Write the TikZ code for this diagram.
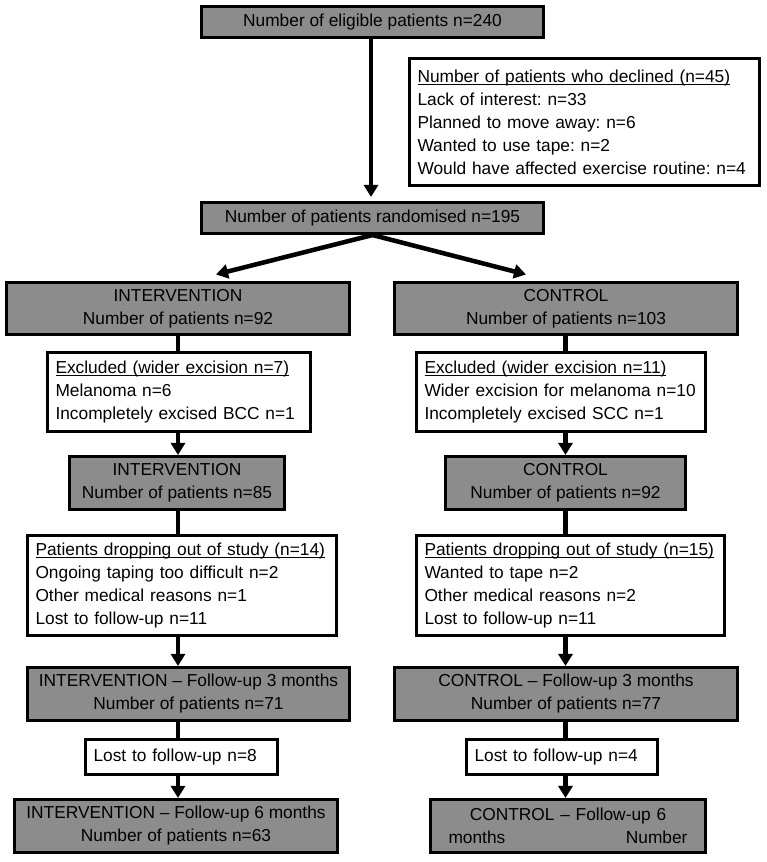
\documentclass[tikz,border=0pt]{standalone}
\usepackage{fontspec}
\setmainfont{Liberation Sans}
\frenchspacing
\usetikzlibrary{arrows.meta,calc}
\definecolor{boxgray}{RGB}{140,140,140}
\newcommand{\headline}[1]{\setbox0\hbox{#1}\rlap{\rule[-1.8pt]{\wd0}{0.7pt}}\box0}

\begin{document}
\begin{tikzpicture}[x=0.75pt,y=0.75pt,yscale=-1,xscale=1,
    font=\fontsize{13}{17.25}\selectfont,
    box/.style={draw, line width=2.3pt, inner ysep=0pt},
    graybox/.style={box, fill=boxgray, align=center, inner xsep=0pt},
    whitebox/.style={box, fill=white, align=left, inner xsep=6pt},
    joinline/.style={line width=3.2pt},
    joinarrow/.style={joinline, -{Triangle[width=10.5pt,length=9pt]}}]
        \useasboundingbox (0,0) rectangle (766,862);
        % columns of the two arms
        \coordinate (colM) at (371,0);
        \coordinate (colI) at (178,0);
        \coordinate (colC) at (565.5,0);

        % Shape: eligible
        \node [graybox, minimum width=256.5pt, minimum height=23.25pt] (eligible) at (372.5,22) {Number of eligible patients n=240};
        % Shape: declined
        \node [whitebox, text width=250.5pt, minimum height=95.25pt] (declined) at (584.5,122) {\headline{Number of patients who declined (n=45)}\\Lack of interest: n=33\\Planned to move away: n=6\\Wanted to use tape: n=2\\Would have affected exercise routine: n=4};
        % Shape: randomised
        \node [graybox, minimum width=256.5pt, minimum height=23.25pt] (rand) at (372.5,218) {Number of patients randomised n=195};

        % Shape: intervention arm
        \node [graybox, minimum width=257.25pt, minimum height=39pt] (int1) at (178,308.5) {INTERVENTION\\Number of patients n=92};
        \node [whitebox, text width=185.25pt, minimum height=59.25pt] (excI) at (179,392) {\headline{Excluded (wider excision n=7)}\\Melanoma n=6\\Incompletely excised BCC n=1};
        \node [graybox, minimum width=161.25pt, minimum height=39.75pt] (int2) at (177,483) {INTERVENTION\\Number of patients n=85};
        \node [whitebox, text width=219.75pt, minimum height=75pt] (dropI) at (182,585.5) {\headline{Patients dropping out of study (n=14)}\\Ongoing taping too difficult n=2\\Other medical reasons n=1\\Lost to follow-up n=11};
        \node [graybox, minimum width=241.5pt, minimum height=39.75pt] (fu3I) at (188.5,694) {INTERVENTION – Follow-up 3 months\\Number of patients n=71};
        \node [whitebox, text width=132pt, minimum height=26.25pt] (lostI) at (181.5,757) {Lost to follow-up n=8};
        \node [graybox, minimum width=242.25pt, minimum height=39.75pt] (fu6I) at (176,826) {INTERVENTION – Follow-up 6 months\\Number of patients n=63};

        % Shape: control arm
        \node [graybox, minimum width=257.25pt, minimum height=39pt] (ctrl1) at (566,308.5) {CONTROL\\Number of patients n=103};
        \node [whitebox, text width=204.75pt, minimum height=59.25pt] (excC) at (561,392) {\headline{Excluded (wider excision n=11)}\\Wider excision for melanoma n=10\\Incompletely excised SCC n=1};
        \node [graybox, minimum width=180pt, minimum height=39.75pt] (ctrl2) at (565.5,483) {CONTROL\\Number of patients n=92};
        \node [whitebox, text width=219pt, minimum height=75pt] (dropC) at (570.5,585.5) {\headline{Patients dropping out of study (n=15)}\\Wanted to tape n=2\\Other medical reasons n=2\\Lost to follow-up n=11};
        \node [graybox, minimum width=257.25pt, minimum height=39.75pt] (fu3C) at (566,694) {CONTROL – Follow-up 3 months\\Number of patients n=77};
        \node [whitebox, text width=131.25pt, minimum height=26.25pt] (lostC) at (562,757) {Lost to follow-up n=4};
        \node [graybox, minimum width=206.25pt, minimum height=39.75pt, text width=179.25pt] (fu6C) at (568,826) {CONTROL – Follow-up 6\\\makebox[\linewidth]{months\hfill Number}};

        % Connectors: top part
        \draw [joinarrow, line width=3pt, shorten >=3pt] (colM |- eligible.south) -- (colM |- rand.north);
        \draw [joinarrow, line width=3.4pt] (rand.south) -- ($(int1.north)+(38,-6.5)$);
        \draw [joinarrow, line width=3.4pt] (rand.south) -- ($(ctrl1.north)+(-40,-6.5)$);

        % Connectors: intervention arm
        \draw [joinline] (colI |- int1.south) -- (colI |- excI.north);
        \draw [joinarrow] (colI |- excI.south) -- (colI |- int2.north);
        \draw [joinline] (colI |- int2.south) -- (colI |- dropI.north);
        \draw [joinarrow] (colI |- dropI.south) -- (colI |- fu3I.north);
        \draw [joinline] (colI |- fu3I.south) -- (colI |- lostI.north);
        \draw [joinarrow] (colI |- lostI.south) -- (colI |- fu6I.north);

        % Connectors: control arm
        \draw [joinline] (colC |- ctrl1.south) -- (colC |- excC.north);
        \draw [joinarrow] (colC |- excC.south) -- (colC |- ctrl2.north);
        \draw [joinline] (colC |- ctrl2.south) -- (colC |- dropC.north);
        \draw [joinarrow] (colC |- dropC.south) -- (colC |- fu3C.north);
        \draw [joinline] (colC |- fu3C.south) -- (colC |- lostC.north);
        \draw [joinarrow] (colC |- lostC.south) -- (colC |- fu6C.north);
    \end{tikzpicture}
\end{document}
